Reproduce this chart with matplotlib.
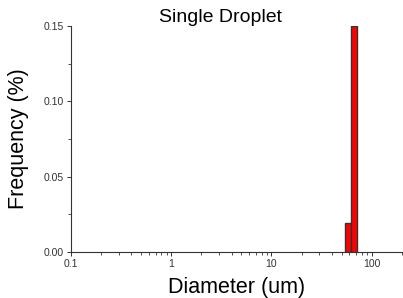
import numpy as np
import matplotlib
matplotlib.use("Agg")
import matplotlib.pyplot as plt
from matplotlib.ticker import FixedLocator, NullFormatter, LogLocator, FuncFormatter

plt.rcParams['font.family'] = ['Liberation Sans', 'DejaVu Sans']

# bin edges (um) and frequencies
bin_left = [53.5, 61.5]
bin_right = [61.5, 71.0]
freq = [0.019, 0.150]

fig = plt.figure(figsize=(4.03, 2.98), dpi=100)
ax = fig.add_axes([0.176, 0.154, 0.824, 0.759])

widths = np.array(bin_right) - np.array(bin_left)
ax.bar(bin_left, freq, width=widths, align='edge', color='#ff0000',
       edgecolor='#333333', linewidth=1.0, zorder=3)

ax.set_xscale('log')
ax.set_xlim(0.1, 205)
ax.set_ylim(0, 0.15)

ax.xaxis.set_major_locator(FixedLocator([0.1, 1, 10, 100]))
ax.xaxis.set_major_formatter(FuncFormatter(lambda v, p: '%g' % v))
ax.xaxis.set_minor_locator(LogLocator(base=10, subs=np.arange(2, 10)))
ax.xaxis.set_minor_formatter(NullFormatter())

ax.set_yticks([0.0, 0.05, 0.10, 0.15])
ax.set_yticklabels(['0.00', '0.05', '0.10', '0.15'])
ax.set_yticks([0.025, 0.075, 0.125], minor=True)

ax.spines['top'].set_visible(False)
ax.spines['right'].set_visible(False)
for s in ['left', 'bottom']:
    ax.spines[s].set_linewidth(0.8)
    ax.spines[s].set_color('#333333')

ax.tick_params(which='major', direction='out', length=3, width=0.7,
               labelsize=7.5, colors='#333333', pad=2)
ax.tick_params(which='minor', direction='out', length=2, width=0.6,
               colors='#333333')

ax.set_xlabel('Diameter (um)', fontsize=15.5)
ax.xaxis.set_label_coords(0.5, -0.112)
ax.set_ylabel('Frequency (%)', fontsize=15.5)
ax.yaxis.set_label_coords(-0.125, 0.5)
ax.set_title('Single Droplet', fontsize=14, x=0.449, pad=2)

fig.savefig('out.png', dpi=100)
